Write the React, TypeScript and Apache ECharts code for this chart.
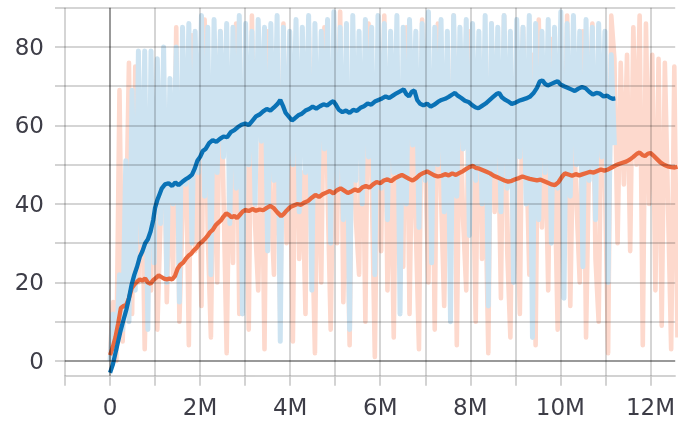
import React, { useEffect, useRef } from "react";
import * as echarts from "echarts";

// raw samples are logged every 0.07M steps, starting at step 0
const RAW_STEP = 0.07;

const xTickValues = [-1, 0, 1, 2, 3, 4, 5, 6, 7, 8, 9, 10, 11, 12];
const xLabelValues = [0, 2, 4, 6, 8, 10, 12];
const yTickValues = [0, 10, 20, 30, 40, 50, 60, 70, 80, 90];
const yLabelValues = [0, 20, 40, 60, 80];

const blueRaw = [
  0, 12, 3, 22, 8, 51, 10, 69, 18, 79,
  30, 79, 8, 79, 25, 77, 35, 80, 20, 72,
  40, 80, 15, 85, 45, 86, 30, 84, 48, 88,
  42, 85, 22, 87, 48, 84, 52, 86, 35, 85,
  44, 88, 12, 86, 50, 84, 40, 87, 56, 85,
  28, 86, 46, 88, 5, 85, 38, 84, 50, 87,
  38, 85, 48, 88, 18, 86, 42, 84, 54, 87,
  30, 89, 44, 85, 36, 86, 8, 88, 46, 84,
  40, 87, 52, 85, 22, 88, 44, 86, 36, 84,
  48, 88, 12, 85, 40, 87, 55, 84, 34, 86,
  46, 89, 25, 85, 50, 87, 38, 84, 10, 88,
  42, 85, 54, 87, 32, 86, 46, 84, 40, 88,
  14, 86, 48, 85, 38, 88, 44, 84, 20, 87,
  52, 85, 40, 88, 6, 86, 36, 84, 48, 87,
  30, 85, 44, 89, 16, 86, 42, 88, 50, 84,
  24, 87, 46, 85, 36, 86, 52, 84, 20, 78,
  55,
];

const orangeRaw = [
  2, 15, 0, 69, 5, 30, 76, 12, 75, 20,
  55, 3, 40, 18, 62, 8, 35, 70, 15, 48,
  22, 85, 10, 38, 60, 4, 83, 28, 50, 14,
  87, 32, 6, 65, 20, 84, 42, 2, 58, 25,
  86, 12, 45, 70, 8, 88, 35, 18, 62, 3,
  84, 40, 22, 75, 10, 86, 30, 55, 5, 80,
  26, 48, 12, 87, 38, 2, 68, 20, 85, 44,
  8, 60, 30, 89, 15, 52, 4, 82, 36, 22,
  72, 10, 86, 46, 1, 64, 28, 88, 18, 56,
  6, 78, 40, 24, 85, 12, 66, 34, 3, 87,
  50, 20, 74, 8, 86, 42, 14, 60, 30, 88,
  4, 70, 36, 18, 84, 54, 10, 80, 26, 46,
  2, 86, 38, 64, 16, 88, 28, 6, 72, 44,
  12, 85, 56, 22, 78, 4, 87, 34, 60, 18,
  82, 48, 8, 76, 30, 88, 14, 62, 40, 20,
  84, 6, 54, 86, 26, 10, 70, 46, 2, 88,
  77, 30, 76, 45, 78, 28, 85, 50, 88, 4,
  86, 40, 78, 18, 77, 9, 76, 40, 3, 75,
  6,
];

// [step in millions, smoothed value]
const blueSmoothed = [
  [0, -3], [0.06, -1], [0.12, 2], [0.18, 5], [0.24, 8], [0.3, 10.5], [0.36, 13], [0.42, 16],
  [0.48, 19.5], [0.54, 22], [0.6, 24], [0.66, 26.5], [0.72, 28], [0.78, 30], [0.84, 31],
  [0.9, 33], [0.96, 36], [1.0, 39], [1.05, 41], [1.1, 42.5], [1.15, 44], [1.22, 45],
  [1.3, 45.3], [1.38, 44.6], [1.45, 45.5], [1.52, 44.8], [1.6, 45.6], [1.68, 46.3],
  [1.75, 46.8], [1.82, 47.5], [1.88, 49], [1.94, 51], [2.0, 52], [2.06, 53.5], [2.12, 54],
  [2.2, 55.5], [2.28, 56.3], [2.36, 55.8], [2.44, 56.6], [2.52, 57.2], [2.6, 57],
  [2.68, 58.3], [2.76, 58.8], [2.84, 59.6], [2.92, 60.2], [3.0, 60.5], [3.08, 60.1],
  [3.16, 61.2], [3.24, 62.3], [3.32, 62.8], [3.4, 63.6], [3.48, 64.2], [3.56, 63.8],
  [3.64, 64.6], [3.72, 65.5], [3.78, 66.5], [3.84, 65], [3.9, 63.2], [3.96, 62.4],
  [4.04, 61.3], [4.1, 61.8], [4.18, 62.6], [4.26, 63], [4.34, 63.8], [4.42, 64.2],
  [4.5, 64.8], [4.58, 64.3], [4.66, 64.9], [4.74, 65.4], [4.82, 65.1], [4.9, 65.8],
  [4.96, 66.2], [5.02, 65.2], [5.08, 64], [5.16, 63.4], [5.24, 63.8], [5.32, 63.2],
  [5.4, 64], [5.48, 63.7], [5.56, 64.5], [5.64, 64.9], [5.72, 65.6], [5.8, 65.3],
  [5.88, 66.1], [5.96, 66.5], [6.04, 66.9], [6.12, 67.4], [6.2, 67], [6.28, 67.6],
  [6.36, 68.2], [6.44, 68.7], [6.52, 69.2], [6.58, 68], [6.64, 67.4], [6.7, 68.6],
  [6.76, 68.9], [6.82, 66.5], [6.88, 65.6], [6.96, 65.1], [7.04, 65.6], [7.12, 64.8],
  [7.2, 65.3], [7.28, 66], [7.36, 66.5], [7.44, 66.8], [7.52, 67.3], [7.6, 67.9],
  [7.66, 68.3], [7.72, 67.6], [7.8, 67], [7.88, 66.3], [7.96, 66], [8.04, 65.2],
  [8.12, 64.6], [8.18, 64.4], [8.26, 65], [8.34, 65.6], [8.42, 66.4], [8.5, 67.2],
  [8.58, 68], [8.64, 68.3], [8.7, 67.2], [8.78, 66.5], [8.86, 66], [8.92, 65.5],
  [9.0, 65.8], [9.08, 66.3], [9.16, 66.6], [9.24, 66.9], [9.32, 67.3], [9.4, 68.2],
  [9.48, 69.6], [9.54, 71.2], [9.6, 71.5], [9.66, 70.6], [9.72, 70.2], [9.8, 70.6],
  [9.88, 71], [9.94, 71.3], [10.0, 70.5], [10.08, 70], [10.16, 69.6], [10.24, 69.2],
  [10.32, 68.8], [10.4, 69.4], [10.48, 69.8], [10.56, 69.5], [10.64, 68.6], [10.72, 67.9],
  [10.8, 68.3], [10.88, 68.1], [10.96, 67.4], [11.04, 67.6], [11.1, 67.1], [11.16, 66.8],
  [11.22, 66.9],
];

const orangeSmoothed = [
  [0, 1.5], [0.06, 3.5], [0.12, 6], [0.18, 9.5], [0.24, 13.5], [0.3, 14], [0.36, 14.3],
  [0.42, 16], [0.48, 18.5], [0.54, 19.5], [0.6, 20.2], [0.66, 20.8], [0.72, 20.5],
  [0.78, 21], [0.84, 20], [0.9, 19.7], [0.96, 20.6], [1.02, 21.2], [1.08, 21.8],
  [1.14, 21.4], [1.2, 21], [1.26, 20.8], [1.32, 21], [1.38, 20.8], [1.44, 21.6],
  [1.5, 23.5], [1.56, 24.5], [1.62, 25], [1.68, 26], [1.74, 26.8], [1.8, 27.3],
  [1.86, 28.2], [1.92, 28.8], [1.98, 29.8], [2.04, 30.3], [2.1, 31], [2.16, 31.8],
  [2.22, 32.8], [2.28, 33.4], [2.34, 34.5], [2.4, 35.2], [2.46, 35.8], [2.52, 36.8],
  [2.58, 37.6], [2.64, 37.2], [2.7, 36.6], [2.76, 37], [2.82, 36.4], [2.88, 37.2],
  [2.94, 38], [3.0, 38.5], [3.08, 38.2], [3.16, 38.7], [3.24, 38.3], [3.32, 38.6],
  [3.4, 38.4], [3.48, 39], [3.56, 39.5], [3.64, 38.9], [3.72, 37.8], [3.8, 36.9],
  [3.86, 37.5], [3.92, 38.3], [4.0, 39.2], [4.08, 39.6], [4.16, 40], [4.24, 39.8],
  [4.32, 40.4], [4.4, 40.8], [4.48, 41.6], [4.56, 42.3], [4.64, 41.8], [4.72, 42.5],
  [4.8, 42.9], [4.88, 43.3], [4.96, 42.7], [5.04, 43.5], [5.12, 44], [5.2, 43.4],
  [5.28, 42.8], [5.36, 43.2], [5.44, 43.7], [5.52, 43.3], [5.6, 44.2], [5.68, 44.6],
  [5.76, 44.2], [5.84, 45], [5.92, 45.6], [6.0, 45.3], [6.08, 46], [6.16, 46.3],
  [6.24, 45.8], [6.32, 46.5], [6.4, 47], [6.48, 47.4], [6.56, 46.9], [6.64, 46.4],
  [6.72, 46], [6.8, 46.6], [6.88, 47.4], [6.96, 47.9], [7.04, 48.3], [7.12, 47.8],
  [7.2, 47.3], [7.28, 47], [7.36, 47.2], [7.44, 47.6], [7.52, 47.3], [7.6, 47.8],
  [7.68, 47.4], [7.76, 47.9], [7.84, 48.4], [7.92, 49], [8.0, 49.5], [8.06, 49.7],
  [8.12, 49.2], [8.2, 49], [8.28, 48.6], [8.36, 48.2], [8.44, 47.8], [8.52, 47.2],
  [8.6, 46.8], [8.68, 46.4], [8.76, 46], [8.84, 45.7], [8.92, 45.9], [9.0, 46.3],
  [9.08, 46.6], [9.16, 47], [9.24, 46.7], [9.32, 46.4], [9.4, 46.2], [9.48, 46],
  [9.56, 46.2], [9.64, 45.8], [9.72, 45.4], [9.8, 45], [9.88, 44.8], [9.96, 45.6],
  [10.04, 47], [10.1, 47.8], [10.18, 47.5], [10.26, 47.2], [10.34, 47.6], [10.42, 47.3],
  [10.5, 47.6], [10.58, 47.9], [10.66, 48.2], [10.74, 48], [10.82, 48.4], [10.9, 48.8],
  [10.98, 48.5], [11.06, 48.8], [11.14, 49.3], [11.22, 49.8], [11.3, 50.2], [11.38, 50.5],
  [11.46, 50.8], [11.54, 51.3], [11.62, 52], [11.7, 52.8], [11.76, 53.1], [11.82, 52.5],
  [11.88, 52.2], [11.94, 52.8], [12.0, 53], [12.06, 52.4], [12.14, 51.5], [12.22, 50.6],
  [12.3, 50], [12.38, 49.6], [12.46, 49.4], [12.54, 49.3], [12.6, 49.5],
];

const GRID_COLOR = "#c4c4c4";
const GRID_OVERLAY = "rgba(0,0,0,0.22)";
const ZERO_OVERLAY = "rgba(0,0,0,0.4)";
const LABEL_COLOR = "#3d3d47";
const FONT = "DejaVu Sans";

export default function App() {
  const ref = useRef<HTMLDivElement>(null);

  useEffect(() => {
    if (!ref.current) return;
    const chart = echarts.init(ref.current, null, { renderer: "svg" });
    const rawPairs = (vals: number[]) =>
      vals.map((v, i) => [Math.round(i * RAW_STEP * 1000) / 1000, v]);

    const gridStyle = { color: GRID_OVERLAY, width: 1.5, type: "solid" };
    const zeroStyle = { color: ZERO_OVERLAY, width: 2, type: "solid" };
    const gridLines = [
      ...xTickValues.map((v) => ({ xAxis: v, lineStyle: v === 0 ? zeroStyle : gridStyle })),
      ...yTickValues.map((v) => ({ yAxis: v, lineStyle: v === 0 ? zeroStyle : gridStyle })),
    ];

    chart.setOption({
      animation: false,
      grid: { left: 65, right: 0, top: 7.75, bottom: 47.3, containLabel: false },
      xAxis: {
        type: "value",
        min: -1,
        max: 12.55,
        axisLine: { show: true, onZero: false, lineStyle: { color: GRID_COLOR, width: 1.5 } },
        axisTick: {
          show: true,
          length: 10,
          customValues: xTickValues,
          lineStyle: { color: GRID_COLOR, width: 1.5 },
        },
        axisLabel: {
          customValues: xLabelValues,
          formatter: (v: number) => (v === 0 ? "0" : `${v}M`),
          fontSize: 23,
          fontFamily: FONT,
          color: LABEL_COLOR,
          margin: 20,
        },
        splitLine: { show: false },
      },
      yAxis: {
        type: "value",
        min: -3.75,
        max: 90,
        axisLine: { show: false, onZero: false },
        axisTick: {
          show: true,
          length: 10,
          customValues: yTickValues,
          lineStyle: { color: GRID_COLOR, width: 1.5 },
        },
        axisLabel: {
          customValues: yLabelValues,
          fontSize: 23,
          fontFamily: FONT,
          color: LABEL_COLOR,
          margin: 21,
        },
        splitLine: { show: false },
      },
      series: [
        {
          type: "line",
          data: rawPairs(orangeRaw),
          showSymbol: false,
          symbol: "none",
          lineStyle: { color: "#fdd9cd", width: 4.6, join: "round" },
          z: 1,
        },
        {
          type: "line",
          data: rawPairs(blueRaw),
          showSymbol: false,
          symbol: "none",
          lineStyle: { color: "#cde3f1", width: 5, join: "round" },
          z: 2,
          markLine: {
            silent: true,
            symbol: "none",
            label: { show: false },
            lineStyle: gridStyle,
            data: gridLines,
          },
        },
        {
          type: "line",
          data: orangeSmoothed,
          showSymbol: false,
          symbol: "none",
          lineStyle: { color: "#e9693e", width: 4.3 },
          z: 3,
        },
        {
          type: "line",
          data: blueSmoothed,
          showSymbol: false,
          symbol: "none",
          lineStyle: { color: "#0a72b6", width: 4.3 },
          z: 4,
        },
      ],
    });

    return () => chart.dispose();
  }, []);

  return (
    <div
      ref={ref}
      style={{ position: "fixed", left: 0, top: 0, width: 678, height: 423 }}
    />
  );
}
